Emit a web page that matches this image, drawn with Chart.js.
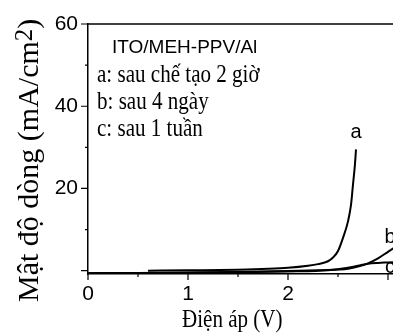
<!DOCTYPE html>
<html>
<head>
<meta charset="utf-8">
<script src="https://cdn.jsdelivr.net/npm/chart.js@4"></script>
<style>
    html, body { margin: 0; padding: 0; background: #fff; overflow: hidden; }
    #wrap { width: 440px; height: 333px; }
</style>
</head>
<body>
<div id="wrap"><canvas id="ivChart"></canvas></div>
<script>
// Curve a: sau chế tạo 2 giờ
const voltA = [0.6, 1.0, 1.5, 1.8, 2.0, 2.2, 2.3, 2.4, 2.45, 2.5, 2.55, 2.6, 2.63, 2.65, 2.67, 2.68];
const currentA = [0.0, 0.1, 0.25, 0.45, 0.7, 1.2, 1.6, 2.3, 3.2, 4.8, 8.0, 12.0, 16.0, 21.0, 26.0, 29.5];

// Curve b: sau 4 ngày
const voltB = [0.0, 0.5, 1.0, 1.5, 2.0, 2.3, 2.5, 2.6, 2.7, 2.8, 2.9, 3.0, 3.1, 3.2];
const currentB = [-0.6, -0.55, -0.45, -0.3, -0.1, 0.1, 0.3, 0.5, 1.0, 1.8, 3.0, 4.6, 6.2, 8.0];

// Curve c: sau 1 tuần
const voltC = [0.0, 0.5, 1.0, 1.5, 2.0, 2.4, 2.6, 2.7, 2.8, 2.9, 3.0, 3.1, 3.2];
const currentC = [-0.6, -0.55, -0.5, -0.35, -0.2, 0.1, 0.7, 1.2, 1.7, 1.9, 2.0, 2.1, 2.2];

const xMajorTicks = [0, 1, 2, 3];
const xMinorTicks = [0.5, 1.5, 2.5];
const yMajorTicks = [0, 20, 40, 60];
const yMinorTicks = [10, 30, 50];

const serif = '"Liberation Serif", "Times New Roman", serif';
const sans = '"Liberation Sans", Arial, sans-serif';

function toPoints(xs, ys) {
    return xs.map((v, i) => ({ x: v, y: ys[i] }));
}

function lineSet(label, xs, ys) {
    return {
        label: label,
        data: toPoints(xs, ys),
        borderColor: '#000',
        borderWidth: 2,
        pointRadius: 0,
        fill: false,
        cubicInterpolationMode: 'monotone'
    };
}

// frame, tick marks, titles and in-plot texts
const decorations = {
    id: 'decorations',
    afterDraw(chart) {
        const ctx = chart.ctx;
        const area = chart.chartArea;
        const xs = chart.scales.x;
        const ys = chart.scales.y;
        ctx.save();
        ctx.strokeStyle = '#000';
        ctx.lineWidth = 1.5;
        ctx.beginPath();
        ctx.moveTo(area.left, area.top);
        ctx.lineTo(area.right, area.top);
        ctx.stroke();

        ctx.lineWidth = 1.2;
        ctx.beginPath();
        yMajorTicks.forEach(v => {
            const p = ys.getPixelForValue(v);
            ctx.moveTo(area.left - 7, p); ctx.lineTo(area.left, p);
        });
        yMinorTicks.forEach(v => {
            const p = ys.getPixelForValue(v);
            ctx.moveTo(area.left - 3, p); ctx.lineTo(area.left, p);
        });
        xMajorTicks.forEach(v => {
            const p = xs.getPixelForValue(v);
            ctx.moveTo(p, area.bottom); ctx.lineTo(p, area.bottom + 6);
        });
        xMinorTicks.forEach(v => {
            const p = xs.getPixelForValue(v);
            ctx.moveTo(p, area.bottom); ctx.lineTo(p, area.bottom + 3);
        });
        ctx.stroke();

        ctx.fillStyle = '#000';
        ctx.textBaseline = 'alphabetic';

        // serif texts, narrow like the original
        function serifText(text, x, y, size) {
            ctx.save();
            ctx.translate(x, y);
            ctx.scale(0.81, 1);
            ctx.font = size + 'px ' + serif;
            ctx.textAlign = 'left';
            ctx.fillText(text, 0, 0);
            ctx.restore();
        }

        ctx.font = '19px ' + sans;
        ctx.textAlign = 'left';
        ctx.fillText('ITO/MEH-PPV/Al', 112, 53);
        serifText('a: sau chế tạo 2 giờ', 97, 82, 26);
        serifText('b: sau 4 ngày', 97, 109, 26);
        serifText('c: sau 1 tuần', 97, 136, 26);

        // x axis title
        serifText('Điện áp (V)', 182, 327, 26);

        // y axis title, rotated
        ctx.save();
        ctx.translate(38, 302);
        ctx.rotate(-Math.PI / 2);
        ctx.font = '30px ' + serif;
        ctx.textAlign = 'left';
        const main = 'Mật độ dòng (mA/cm';
        ctx.fillText(main, 0, 0);
        let w = ctx.measureText(main).width;
        ctx.font = '25px ' + serif;
        ctx.fillText('2', w, -6);
        w += ctx.measureText('2').width;
        ctx.font = '30px ' + serif;
        ctx.fillText(')', w, 0);
        ctx.restore();

        // curve labels
        ctx.font = '20px ' + sans;
        ctx.textAlign = 'center';
        ctx.textBaseline = 'middle';
        const last = voltA.length - 1;
        ctx.fillText('a', xs.getPixelForValue(voltA[last]), ys.getPixelForValue(currentA[last]) - 17);
        ctx.fillText('b', xs.getPixelForValue(3.02), ys.getPixelForValue(8));
        ctx.fillText('c', xs.getPixelForValue(3.02), ys.getPixelForValue(0.7));
        ctx.restore();
    }
};

const ivChart = new Chart(document.getElementById('ivChart').getContext('2d'), {
    type: 'line',
    data: {
        datasets: [
            lineSet('a', voltA, currentA),
            lineSet('b', voltB, currentB),
            lineSet('c', voltC, currentC)
        ]
    },
    options: {
        responsive: true,
        maintainAspectRatio: false,
        animation: false,
        layout: { padding: { top: 24, right: 12, left: 0, bottom: 0 } },
        plugins: {
            legend: { display: false },
            tooltip: { enabled: false }
        },
        scales: {
            x: {
                type: 'linear',
                min: 0,
                max: 3.4,
                afterFit: scale => { scale.height = 59; },
                grid: { drawOnChartArea: false, drawTicks: false },
                border: { display: true, color: '#000', width: 1.5 },
                ticks: {
                    stepSize: 0.5,
                    autoSkip: false,
                    maxRotation: 0,
                    padding: 8,
                    color: '#000',
                    font: { family: sans, size: 21 },
                    callback: function(value) {
                        return Number.isInteger(value) && xMajorTicks.includes(value) ? value : '';
                    }
                }
            },
            y: {
                min: -0.8,
                max: 60,
                afterFit: scale => { scale.width = 88; },
                grid: { drawOnChartArea: false, drawTicks: false },
                border: { display: true, color: '#000', width: 1.5 },
                ticks: {
                    stepSize: 10,
                    autoSkip: false,
                    padding: 10,
                    color: '#000',
                    font: { family: sans, size: 21 },
                    callback: function(value) {
                        return yMajorTicks.includes(value) ? value : '';
                    }
                }
            }
        }
    },
    plugins: [decorations]
});
</script>
</body>
</html>
